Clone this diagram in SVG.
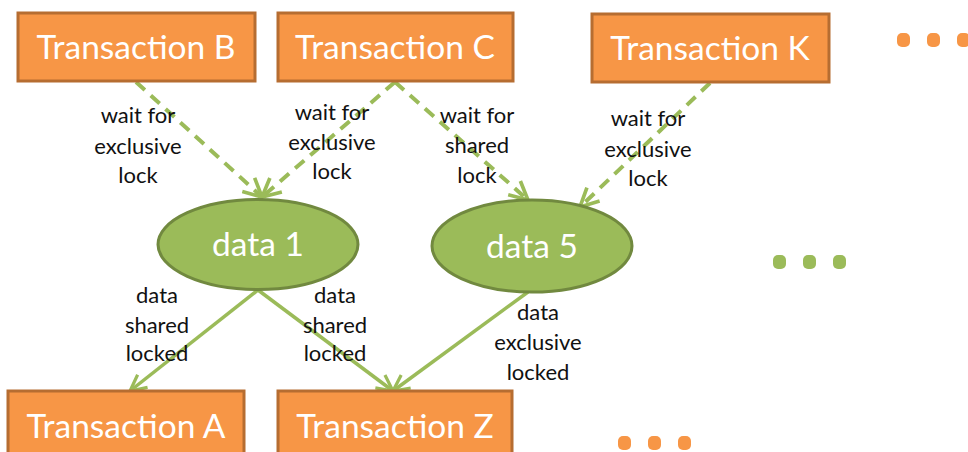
<svg xmlns="http://www.w3.org/2000/svg" width="968" height="452" viewBox="0 0 968 452">
<defs>
<style>
.box{fill:#F79646;stroke:#B66D31;stroke-width:3}
.ell{fill:#9BBB59;stroke:#71893F;stroke-width:3}
.nt{font-family:Lato,"Open Sans",sans-serif;font-size:33.5px;fill:#fff;text-anchor:middle}
.lb{font-family:Lato,"Open Sans",sans-serif;font-size:22px;fill:#111;text-anchor:middle}
.dash{fill:none;stroke:#9BBB59;stroke-width:4;stroke-dasharray:12 8}
.sol{fill:none;stroke:#9BBB59;stroke-width:3.5}
.od{fill:#F79646}
.gd{fill:#9BBB59}
</style>
<marker id="ah" viewBox="0 0 12 12" refX="11" refY="6" markerWidth="5.5" markerHeight="5.5" orient="auto" markerUnits="strokeWidth">
<path d="M1,1 L11,6 L1,11" fill="none" stroke="#9BBB59" stroke-width="2"/>
</marker>
</defs>
<rect width="968" height="452" fill="#fff"/>
<g id="connectors">
<path class="dash" d="M136,82 L262,197" marker-end="url(#ah)"/>
<path class="dash" d="M395,82 L262,197" marker-end="url(#ah)"/>
<path class="dash" d="M395,82 L528,200" marker-end="url(#ah)"/>
<path class="dash" d="M710,83 L580,207" marker-end="url(#ah)"/>
<path class="sol" d="M258,290 L130,391" marker-end="url(#ah)"/>
<path class="sol" d="M258,290 L393,391" marker-end="url(#ah)"/>
<path class="sol" d="M528,292 L393,391" marker-end="url(#ah)"/>
<text class="lb"><tspan x="138" y="123">wait for</tspan><tspan x="138" y="154">exclusive</tspan><tspan x="138" y="183">lock</tspan></text>
<text class="lb"><tspan x="332" y="120">wait for</tspan><tspan x="332" y="150">exclusive</tspan><tspan x="332" y="179">lock</tspan></text>
<text class="lb"><tspan x="477" y="123">wait for</tspan><tspan x="477" y="153">shared</tspan><tspan x="477" y="183">lock</tspan></text>
<text class="lb"><tspan x="648" y="126">wait for</tspan><tspan x="648" y="157">exclusive</tspan><tspan x="648" y="186">lock</tspan></text>
<text class="lb"><tspan x="157" y="303">data</tspan><tspan x="157" y="333">shared</tspan><tspan x="157" y="361">locked</tspan></text>
<text class="lb"><tspan x="335" y="303">data</tspan><tspan x="335" y="333">shared</tspan><tspan x="335" y="361">locked</tspan></text>
<text class="lb"><tspan x="538" y="320">data</tspan><tspan x="538" y="350">exclusive</tspan><tspan x="538" y="380">locked</tspan></text>
</g>
<g id="txB"><rect class="box" x="18" y="13" width="237" height="68"/><text class="nt" x="136" y="59">Transaction B</text></g>
<g id="txC"><rect class="box" x="278" y="13" width="235" height="68"/><text class="nt" x="395" y="59">Transaction C</text></g>
<g id="txK"><rect class="box" x="592" y="14" width="237" height="68"/><text class="nt" x="710" y="60">Transaction K</text></g>
<g id="txA"><rect class="box" x="8" y="391" width="236" height="70"/><text class="nt" x="126" y="438">Transaction A</text></g>
<g id="txZ"><rect class="box" x="278" y="391" width="234" height="70"/><text class="nt" x="395" y="438">Transaction Z</text></g>
<g id="data1"><ellipse class="ell" cx="258" cy="244.5" rx="100" ry="45"/><text class="nt" x="258" y="256">data 1</text></g>
<g id="data5"><ellipse class="ell" cx="532" cy="246" rx="100" ry="46"/><text class="nt" x="532" y="258">data 5</text></g>
<g id="dotsTop"><rect class="od" x="897" y="33" width="13" height="14" rx="5"/><rect class="od" x="927" y="33" width="13" height="14" rx="5"/><rect class="od" x="957" y="33" width="13" height="14" rx="5"/></g>
<g id="dotsMid"><rect class="gd" x="773" y="255" width="13" height="14" rx="5"/><rect class="gd" x="803" y="255" width="13" height="14" rx="5"/><rect class="gd" x="833" y="255" width="13" height="14" rx="5"/></g>
<g id="dotsBot"><rect class="od" x="618" y="436" width="13" height="14" rx="5"/><rect class="od" x="648" y="436" width="13" height="14" rx="5"/><rect class="od" x="678" y="436" width="13" height="14" rx="5"/></g>
</svg>
